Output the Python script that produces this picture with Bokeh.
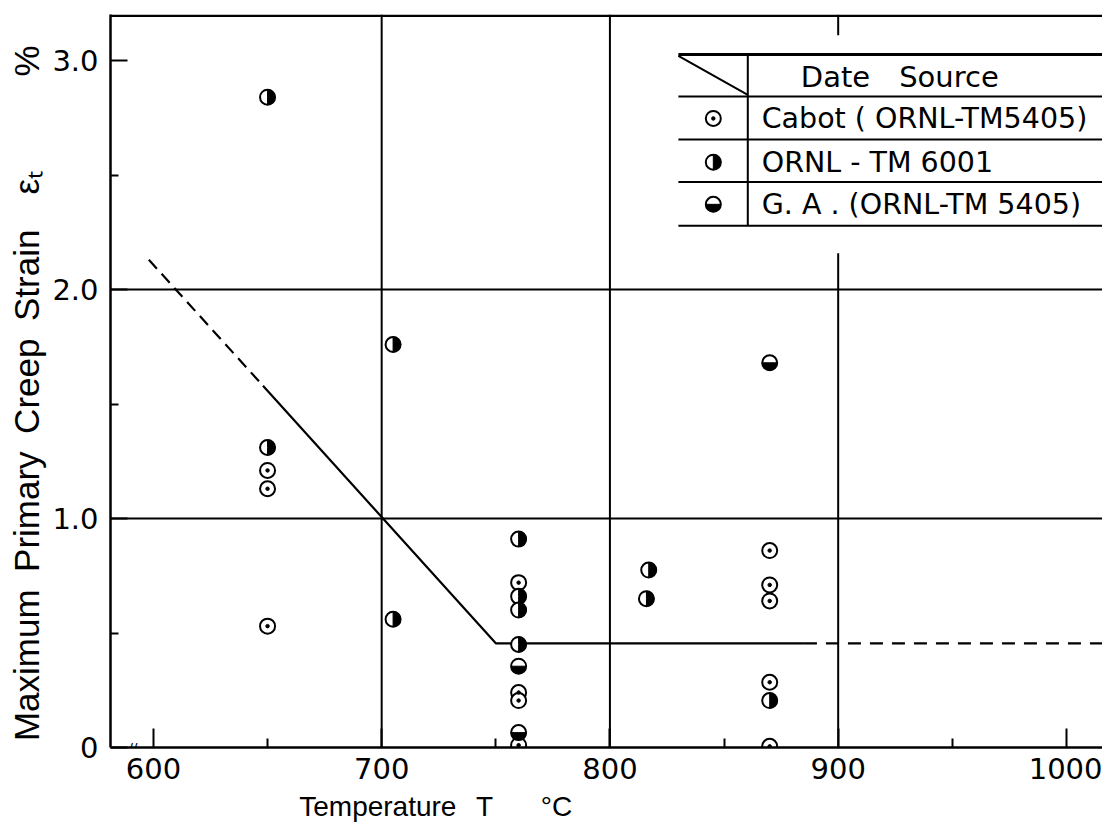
import math
from bokeh.plotting import figure
from bokeh.models import FixedTicker, Range1d, Span
from bokeh.embed import file_html
from bokeh.resources import INLINE
from bokeh.core.properties import value

# ---- data ----
cabot_T = [650, 650, 650, 760, 760, 760, 760, 870, 870, 870, 870, 870]
cabot_e = [1.21, 1.13, 0.53, 0.72, 0.24, 0.205, 0.01, 0.86, 0.71, 0.64, 0.285, 0.005]
ornl_T = [650, 650, 705, 705, 760, 760, 760, 760, 817, 816, 870]
ornl_e = [2.84, 1.31, 1.76, 0.56, 0.91, 0.66, 0.60, 0.45, 0.775, 0.65, 0.205]
ga_T = [760, 760, 870]
ga_e = [0.355, 0.065, 1.68]

trend_dash_left_T = [598, 648]
trend_dash_left_e = [2.13, 1.58]
trend_solid_T = [648, 750, 885]
trend_solid_e = [1.58, 0.455, 0.455]
trend_dash_right_T = [885, 1020]
trend_dash_right_e = [0.455, 0.455]

x_ticks = [600, 700, 800, 900, 1000]
x_minor = [650, 750, 850, 950]
y_ticks = [0, 1, 2, 3]
y_minor = [0.5, 1.5, 2.5]
y_labels = {0: "0", 1: "1.0", 2: "2.0", 3: "3.0"}

EM, EN, THIN = "\u2003", "\u2002", "\u2009"
x_title = "Temperature" + EN + THIN + "T" + EM + EN + THIN + "\u00b0C" + EM * 12 + THIN
y_title = ("Maximum" + EN + "Primary" + EN + "Creep" + EN + "Strain" + EM
           + "\u03b5\u209c" + EM * 2 + EN + THIN + "%" + EN + THIN)

legend_title = "Date" + EM + "Source"
legend_names = ["Cabot ( ORNL-TM5405)", "ORNL - TM 6001", "G. A . (ORNL-TM 5405)"]

FONT = "DejaVu Sans"
LFONT = "Liberation Sans"

p = figure(width=1102, height=828, output_backend="svg", toolbar_location=None,
           x_range=Range1d(581.2, 1015.8), y_range=Range1d(0, 3.201),
           min_border_left=110, min_border_right=0, min_border_top=14, min_border_bottom=81)
p.outline_line_color = None
p.background_fill_color = "white"
p.xgrid.grid_line_color = None
p.ygrid.grid_line_color = None

for ax in (p.xaxis[0], p.yaxis[0]):
    ax.axis_line_width = 2.5
    ax.axis_line_color = "black"
    ax.major_tick_line_width = 2
    ax.minor_tick_line_width = 2
    ax.major_tick_out = 0
    ax.minor_tick_out = 0
    ax.major_label_text_font = FONT
    ax.major_label_text_font_size = "29px"
    ax.major_label_text_color = "black"
    ax.axis_label_text_font = LFONT
    ax.axis_label_text_font_style = "normal"
    ax.axis_label_text_color = "black"

p.xaxis.ticker = FixedTicker(ticks=x_ticks, minor_ticks=x_minor)
p.xaxis.major_tick_in = 19
p.xaxis.minor_tick_in = 9
p.xaxis.major_label_standoff = 10
p.xaxis.axis_label = x_title
p.xaxis.axis_label_text_font_size = "28px"
p.xaxis.axis_label_standoff = 9

p.yaxis.ticker = FixedTicker(ticks=y_ticks, minor_ticks=y_minor)
p.yaxis.major_label_overrides = y_labels
p.yaxis.major_tick_in = 17
p.yaxis.minor_tick_in = 8
p.yaxis.major_label_standoff = 12
p.yaxis.axis_label = y_title
p.yaxis.axis_label_text_font_size = "35px"
p.yaxis.axis_label_standoff = 3

# frame top and grid lines
p.add_layout(Span(location=3.196, dimension="width", line_color="black", line_width=2.5))
for gx in (700, 800):
    p.add_layout(Span(location=gx, dimension="height", line_color="black", line_width=2))
for gy in (1, 2):
    p.add_layout(Span(location=gy, dimension="width", line_color="black", line_width=2))
p.segment(x0=[900], y0=[0], x1=[900], y1=[2.158], line_color="black", line_width=2)
p.segment(x0=[900], y0=[3.2], x1=[900], y1=[3.11], line_color="black", line_width=2)

# axis break mark
p.text(x=[591], y=[0.0], text=["//"], text_font=value(FONT), text_font_size="14px",
       text_align="center", text_baseline="middle", text_color="black")

# trend line
p.line(trend_dash_left_T, trend_dash_left_e, line_color="black", line_width=2.2, line_dash="12 7")
p.line(trend_solid_T, trend_solid_e, line_color="black", line_width=2.2)
p.line(trend_dash_right_T, trend_dash_right_e, line_color="black", line_width=2.2, line_dash="13 9")

R = 7.5

def cabot(xs, ys):
    p.scatter(xs, ys, marker="circle", size=2 * R, fill_color="white", line_color="black", line_width=2)
    p.scatter(xs, ys, marker="circle", size=3.5, fill_color="black", line_color="black")

def ornl(xs, ys):
    p.scatter(xs, ys, marker="circle", size=2 * R, fill_color="white", line_color="black", line_width=2)
    p.wedge(xs, ys, radius=R, radius_units="screen", start_angle=-math.pi / 2, end_angle=math.pi / 2,
            fill_color="black", line_color="black")

def ga(xs, ys):
    p.scatter(xs, ys, marker="circle", size=2 * R, fill_color="white", line_color="black", line_width=2)
    p.wedge(xs, ys, radius=R, radius_units="screen", start_angle=math.pi, end_angle=2 * math.pi,
            fill_color="black", line_color="black")

cabot(cabot_T, cabot_e)
ornl(ornl_T, ornl_e)
ga(ga_T, ga_e)

# legend table
LX0, LXD, LX1 = 830.0, 860.4, 1020.0
row_lines = [2.843, 2.655, 2.469, 2.279]
p.segment(x0=[LX0], y0=[3.026], x1=[LX1], y1=[3.026], line_color="black", line_width=3)
p.segment(x0=[LX0] * 4, y0=row_lines, x1=[LX1] * 4, y1=row_lines, line_color="black", line_width=2)
p.segment(x0=[LXD], y0=[3.026], x1=[LXD], y1=[2.279], line_color="black", line_width=2)
p.segment(x0=[LX0], y0=[3.02], x1=[LXD], y1=[2.85], line_color="black", line_width=2)
p.text(x=[927], y=[2.93], text=[legend_title], text_font=value(FONT), text_font_size="29px",
       text_align="center", text_baseline="middle", text_color="black")
row_y = [2.747, 2.556, 2.372]
p.text(x=[866.5] * 3, y=row_y, text=legend_names, text_font=value(FONT), text_font_size="28.5px",
       text_align="left", text_baseline="middle", text_color="black")
cabot([845.3], [row_y[0]])
ornl([845.3], [row_y[1]])
ga([845.3], [row_y[2]])

open("out.html", "w").write(file_html(p, INLINE))
